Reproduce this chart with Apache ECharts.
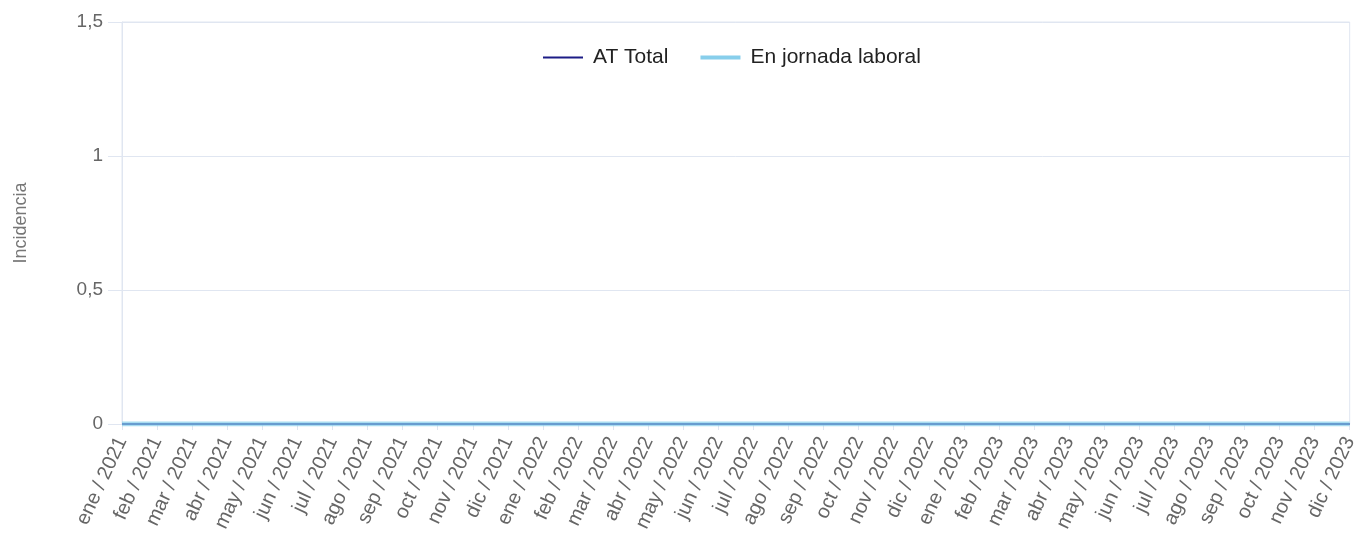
<!DOCTYPE html>
<html>
<head>
<meta charset="utf-8">
<script src="https://cdn.jsdelivr.net/npm/echarts@6/dist/echarts.min.js"></script>
<style>html,body{margin:0;padding:0;background:#fff}#c{width:1360px;height:540px}</style>
</head>
<body>
<div id="c"></div>
<script>
const months = ['ene','feb','mar','abr','may','jun','jul','ago','sep','oct','nov','dic'];
const years = [2021, 2022, 2023];
const categories = [];
years.forEach(y => months.forEach(m => categories.push(m + ' / ' + y)));
const atTotal = [0,0,0,0,0,0,0,0,0,0,0,0, 0,0,0,0,0,0,0,0,0,0,0,0, 0,0,0,0,0,0,0,0,0,0,0,0];
const enJornada = [0,0,0,0,0,0,0,0,0,0,0,0, 0,0,0,0,0,0,0,0,0,0,0,0, 0,0,0,0,0,0,0,0,0,0,0,0];
const yTicks = { min: 0, max: 1.5, interval: 0.5 };

const FONT = 'Liberation Sans, Arial, sans-serif';
const chart = echarts.init(document.getElementById('c'));
chart.setOption({
  animation: false,
  grid: { left: 122, right: 6, top: 22, bottom: 116, show: true, borderColor: '#e0e6f1', borderWidth: 1 },
  legend: {
    top: 42, left: 537,
    itemWidth: 40, itemHeight: 16, itemGap: 30,
    itemStyle: { opacity: 0 },
    textStyle: { fontSize: 21, color: '#222', fontFamily: FONT, padding: [0, 0, 0, 5] },
    data: [
      { name: 'AT Total', lineStyle: { color: '#1c1c86', width: 2, opacity: 1 } },
      { name: 'En jornada laboral', lineStyle: { color: '#87ceeb', width: 4, opacity: 1 } }
    ]
  },
  xAxis: {
    type: 'category', data: categories, boundaryGap: false,
    axisLine: { lineStyle: { color: '#e0e6f1' } },
    axisTick: { show: true, alignWithLabel: true, length: 6, lineStyle: { color: '#e0e6f1' } },
    axisLabel: { rotate: 65, interval: 0, fontSize: 20, color: '#666', margin: 14, fontFamily: FONT }
  },
  yAxis: {
    type: 'value', min: yTicks.min, max: yTicks.max, interval: yTicks.interval,
    name: 'Incidencia', nameLocation: 'middle', nameGap: 92, nameRotate: 90,
    nameTextStyle: { fontSize: 18, color: '#777', fontFamily: FONT },
    axisLine: { show: true, lineStyle: { color: '#e0e6f1' } },
    axisTick: { show: true, length: 14, lineStyle: { color: '#e0e6f1' } },
    axisLabel: { fontSize: 19, color: '#666', margin: 19, fontFamily: FONT,
      formatter: v => String(v).replace('.', ',') },
    splitLine: { lineStyle: { color: '#e0e6f1' } }
  },
  series: [
    { name: 'AT Total', type: 'line', data: atTotal, symbol: 'none',
      itemStyle: { color: '#1c1c86' }, lineStyle: { color: '#1c1c86', width: 2 } },
    { name: 'En jornada laboral', type: 'line', data: enJornada, symbol: 'none',
      itemStyle: { color: '#87ceeb' }, lineStyle: { color: '#87ceeb', width: 5, opacity: 0.72 } }
  ]
});
</script>
</body>
</html>
